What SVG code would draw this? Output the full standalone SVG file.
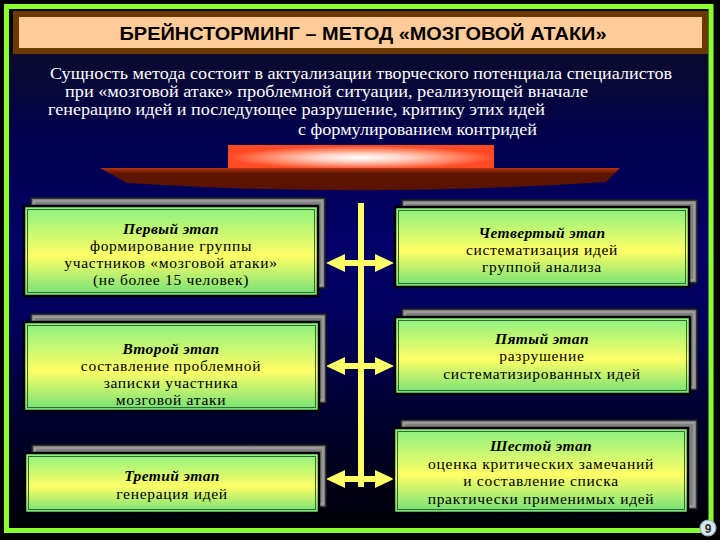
<svg xmlns="http://www.w3.org/2000/svg" width="720" height="540" viewBox="0 0 720 540">
  <defs>
    <linearGradient id="bg" x1="0" y1="0" x2="0" y2="1">
      <stop offset="0" stop-color="#000000"/>
      <stop offset="0.1" stop-color="#0a0a30"/>
      <stop offset="0.25" stop-color="#00004e"/>
      <stop offset="0.45" stop-color="#000068"/>
      <stop offset="0.6" stop-color="#00005c"/>
      <stop offset="0.8" stop-color="#00002c"/>
      <stop offset="1" stop-color="#000008"/>
    </linearGradient>
    <linearGradient id="boxfill" x1="0" y1="0" x2="0" y2="1">
      <stop offset="0" stop-color="#88f080"/>
      <stop offset="0.55" stop-color="#ffff66"/>
      <stop offset="1" stop-color="#70e078"/>
    </linearGradient>
    <radialGradient id="glow" cx="0.5" cy="0.55" r="0.5">
      <stop offset="0" stop-color="#ffffff"/>
      <stop offset="0.35" stop-color="#ffd2c4"/>
      <stop offset="0.7" stop-color="#ff8a6a"/>
      <stop offset="1" stop-color="#ff4a24"/>
    </radialGradient>
    <linearGradient id="band" x1="0" y1="0" x2="0" y2="1">
      <stop offset="0" stop-color="#b83410"/>
      <stop offset="0.25" stop-color="#5e1400"/>
      <stop offset="1" stop-color="#5a1200"/>
    </linearGradient>
    <radialGradient id="bandglow" cx="0.5" cy="0" r="0.5">
      <stop offset="0" stop-color="#ff3a10" stop-opacity="0.9"/>
      <stop offset="1" stop-color="#ff3a10" stop-opacity="0"/>
    </radialGradient>
    <style>
      .para { font-family: "Liberation Serif", "Times New Roman", serif; font-size: 17.5px; fill: #ffffff; }
      .title { font-family: "Liberation Sans", Arial, sans-serif; font-size: 19px; font-weight: bold; fill: #000000; }
      .bt { font-family: "Liberation Serif", "Times New Roman", serif; font-size: 15.5px; letter-spacing: 0.7px; fill: #000000; text-anchor: middle; }
      .bh { font-weight: bold; font-style: italic; letter-spacing: 0.4px; }
      .back { fill: #808080; stroke: #1a1a1a; stroke-width: 1.5; }
      .backin { fill: none; stroke: #b4b4b4; stroke-width: 1; }
      .front { fill: url(#boxfill); stroke: #000000; stroke-width: 2.5; }
      .frontin { fill: none; stroke: #2f6e2f; stroke-width: 1; }
      .arrow { fill: #ffff66; }
    </style>
  </defs>

  <!-- background -->
  <rect x="0" y="0" width="720" height="540" fill="#000000"/>
  <rect x="8" y="8" width="701" height="521" fill="url(#bg)"/>
  <rect x="6.5" y="6.5" width="704.5" height="524" fill="none" stroke="#8aff30" stroke-width="5"/>

  <!-- title -->
  <g id="title">
    <rect x="13" y="11" width="695" height="43" fill="#6b3800"/>
    <rect x="19" y="17" width="683" height="31" fill="#ffcc99"/>
    <text class="title" x="363" y="40" text-anchor="middle" textLength="487" lengthAdjust="spacingAndGlyphs">БРЕЙНСТОРМИНГ – МЕТОД «МОЗГОВОЙ АТАКИ»</text>
  </g>

  <!-- paragraph -->
  <g id="description">
    <text class="para" x="50" y="79" textLength="622" lengthAdjust="spacingAndGlyphs">Сущность метода состоит в актуализации творческого потенциала специалистов</text>
    <text class="para" x="65" y="97" textLength="523" lengthAdjust="spacingAndGlyphs">при «мозговой атаке» проблемной ситуации, реализующей вначале</text>
    <text class="para" x="48" y="115" textLength="497" lengthAdjust="spacingAndGlyphs">генерацию идей и последующее разрушение, критику этих идей</text>
    <text class="para" x="298" y="135" textLength="239" lengthAdjust="spacingAndGlyphs">с формулированием контридей</text>
  </g>

  <!-- glowing platform -->
  <g id="platform">
    <path d="M100,168 L620,168 L606,182 Q360,198 127,183 Z" fill="url(#band)"/>
    <ellipse cx="361" cy="169" rx="90" ry="8" fill="url(#bandglow)"/>
    <rect x="228" y="145" width="266" height="23" fill="url(#glow)"/>
  </g>

  <!-- connectors -->
  <g id="connectors">
    <rect class="arrow" x="358" y="203" width="6" height="284"/>
    <polygon class="arrow" points="326,263 345,254 345,260 375,260 375,254 394,263 375,272 375,266 345,266 345,272"/>
    <polygon class="arrow" points="326,366 345,357 345,363 375,363 375,357 394,366 375,375 375,369 345,369 345,375"/>
    <polygon class="arrow" points="326,479 345,470 345,476 375,476 375,470 394,479 375,488 375,482 345,482 345,488"/>
  </g>

  <!-- stage 1 -->
  <g id="stage1">
    <rect class="back" x="31" y="198" width="294" height="90"/>
    <rect class="backin" x="34" y="201" width="288" height="84"/>
    <rect class="front" x="24" y="206" width="294" height="90"/>
    <rect class="frontin" x="27.5" y="209.5" width="287" height="83"/>
    <text class="bt bh" x="171" y="234">Первый этап</text>
    <text class="bt" x="171" y="251">формирование группы</text>
    <text class="bt" x="171" y="268">участников «мозговой атаки»</text>
    <text class="bt" x="171" y="285">(не более 15 человек)</text>
  </g>

  <!-- stage 2 -->
  <g id="stage2">
    <rect class="back" x="31" y="314" width="295" height="89"/>
    <rect class="backin" x="34" y="317" width="289" height="83"/>
    <rect class="front" x="24" y="322" width="295" height="89"/>
    <rect class="frontin" x="27.5" y="325.5" width="288" height="82"/>
    <text class="bt bh" x="171" y="354">Второй этап</text>
    <text class="bt" x="171" y="371">составление проблемной</text>
    <text class="bt" x="171" y="388">записки участника</text>
    <text class="bt" x="171" y="405">мозговой атаки</text>
  </g>

  <!-- stage 3 -->
  <g id="stage3">
    <rect class="back" x="32" y="445" width="294" height="62"/>
    <rect class="backin" x="35" y="448" width="288" height="56"/>
    <rect class="front" x="25" y="453" width="294" height="60"/>
    <rect class="frontin" x="28.5" y="456.5" width="287" height="53"/>
    <text class="bt bh" x="172" y="481">Третий этап</text>
    <text class="bt" x="172" y="499">генерация идей</text>
  </g>

  <!-- stage 4 -->
  <g id="stage4">
    <rect class="back" x="402" y="200" width="295" height="83"/>
    <rect class="backin" x="405" y="203" width="289" height="77"/>
    <rect class="front" x="395" y="207" width="294" height="80"/>
    <rect class="frontin" x="398.5" y="210.5" width="287" height="73"/>
    <text class="bt bh" x="542" y="238">Четвертый этап</text>
    <text class="bt" x="542" y="255">систематизация идей</text>
    <text class="bt" x="542" y="272">группой анализа</text>
  </g>

  <!-- stage 5 -->
  <g id="stage5">
    <rect class="back" x="402" y="309" width="295" height="81"/>
    <rect class="backin" x="405" y="312" width="289" height="75"/>
    <rect class="front" x="395" y="317" width="295" height="77"/>
    <rect class="frontin" x="398.5" y="320.5" width="288" height="70"/>
    <text class="bt bh" x="542" y="344">Пятый этап</text>
    <text class="bt" x="542" y="361">разрушение</text>
    <text class="bt" x="542" y="379">систематизированных идей</text>
  </g>

  <!-- stage 6 -->
  <g id="stage6">
    <rect class="back" x="401" y="420" width="296" height="89"/>
    <rect class="backin" x="404" y="423" width="290" height="83"/>
    <rect class="front" x="394" y="428" width="294" height="85"/>
    <rect class="frontin" x="397.5" y="431.5" width="287" height="78"/>
    <text class="bt bh" x="541" y="451">Шестой этап</text>
    <text class="bt" x="541" y="469">оценка критических замечаний</text>
    <text class="bt" x="541" y="486">и составление списка</text>
    <text class="bt" x="541" y="504">практически применимых идей</text>
  </g>

  <!-- page number -->
  <g id="pagenum">
    <circle cx="708" cy="528" r="8" fill="#d6eaf2" stroke="#8aa4b0" stroke-width="1.2"/>
    <text x="708" y="532.5" text-anchor="middle" font-family="Liberation Sans, Arial, sans-serif" font-size="12" font-weight="bold" fill="#333333">9</text>
  </g>
</svg>
